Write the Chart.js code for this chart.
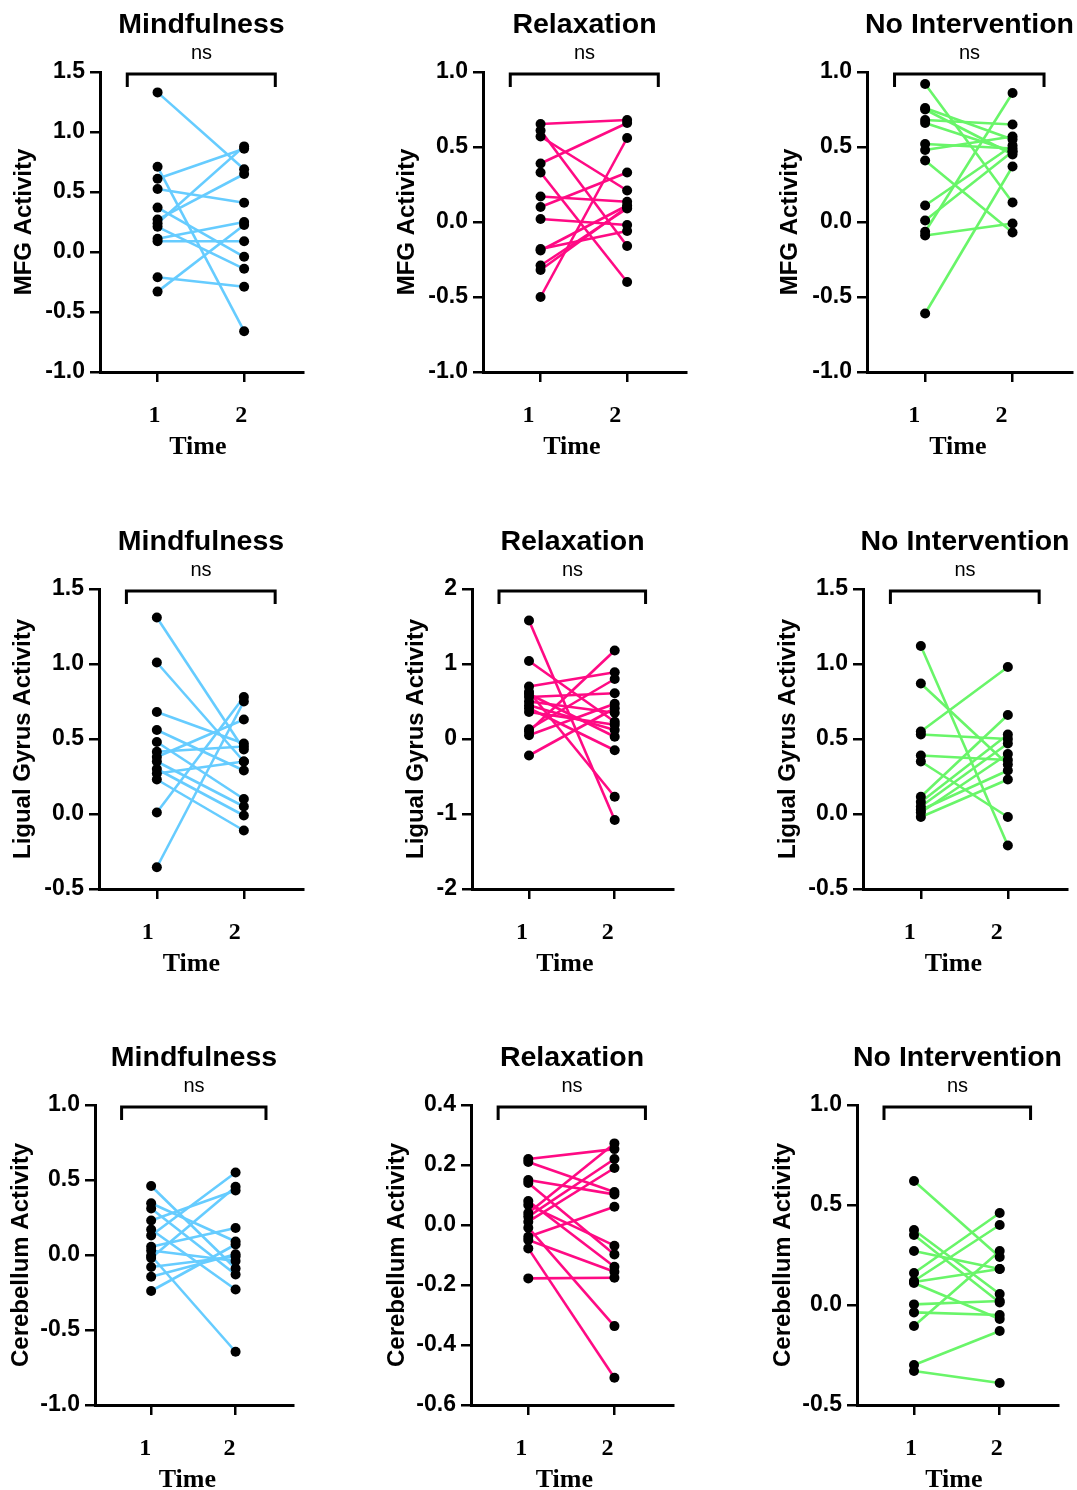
<!DOCTYPE html>
<html>
<head>
<meta charset="utf-8">
<script src="https://cdn.jsdelivr.net/npm/chart.js@4.4.0/dist/chart.umd.min.js"></script>
<style>
  html, body { margin: 0; padding: 0; background: #fff; width: 1077px; height: 1490px; overflow: hidden; }
  canvas { position: absolute; }
</style>
</head>
<body>
<script>
// ---- data ----
const groupTitles = ['Mindfulness', 'Relaxation', 'No Intervention'];
const regionLabels = ['MFG Activity', 'Ligual Gyrus Activity', 'Cerebellum Activity'];
const timeTicks = [1, 2];
const timeTitle = 'Time';
const sigLabel = 'ns';

// MFG
const mfgMindT1 = [1.33, 0.71, 0.61, 0.525, 0.37, 0.27, 0.24, 0.21, 0.11, 0.09, -0.21, -0.33];
const mfgMindT2 = [0.69, -0.66, 0.86, 0.41, -0.04, 0.65, 0.88, -0.14, 0.25, 0.09, -0.29, 0.225];
const mfgRelaxT1 = [0.653, 0.61, 0.57, 0.39, 0.33, 0.17, 0.10, 0.02, -0.18, -0.19, -0.29, -0.32, -0.50];
const mfgRelaxT2 = [0.68, -0.16, 0.21, 0.66, -0.40, 0.135, 0.33, -0.02, -0.06, 0.11, 0.09, 0.10, 0.56];
const mfgNoT1 = [0.92, 0.76, 0.75, 0.68, 0.66, 0.52, 0.48, 0.41, 0.11, 0.01, -0.065, -0.09, -0.61];
const mfgNoT2 = [0.13, 0.55, 0.45, 0.65, 0.47, 0.49, 0.57, -0.07, 0.51, 0.47, 0.86, -0.01, 0.37];

// Lingual gyrus
const lgMindT1 = [1.31, 1.01, 0.68, 0.56, 0.48, 0.415, 0.38, 0.35, 0.30, 0.27, 0.23, 0.01, -0.355];
const lgMindT2 = [0.43, 0.35, 0.47, 0.29, 0.10, 0.45, 0.63, 0.05, -0.01, 0.35, -0.11, 0.78, 0.75];
const lgRelaxT1 = [1.58, 1.04, 0.70, 0.63, 0.56, 0.50, 0.45, 0.41, 0.36, 0.60, 0.13, 0.10, 0.05, -0.22];
const lgRelaxT2 = [-1.08, 0.23, 0.89, -0.77, 0.61, 0.35, 0.12, -0.15, 0.19, 0.03, 0.80, 1.18, 0.47, 0.41];
const lgNoT1 = [1.12, 0.87, 0.55, 0.53, 0.39, 0.35, 0.115, 0.08, 0.05, 0.027, -0.02, 0.01];
const lgNoT2 = [-0.21, 0.33, 0.98, 0.50, 0.36, -0.02, 0.66, 0.53, 0.47, 0.29, 0.23, 0.40];

// Cerebellum
const cbMindT1 = [0.46, 0.345, 0.31, 0.23, 0.17, 0.13, 0.055, 0.03, -0.005, -0.02, -0.08, -0.145, -0.24];
const cbMindT2 = [-0.09, 0.09, -0.13, 0.43, -0.23, 0.55, 0.18, -0.04, -0.645, 0.455, -0.01, 0.005, 0.07];
const cbRelaxT1 = [0.22, 0.21, 0.15, 0.14, 0.08, 0.067, 0.04, 0.028, 0.011, -0.009, -0.039, -0.05, -0.078, -0.178];
const cbRelaxT2 = [0.253, 0.11, 0.102, -0.098, -0.139, -0.069, 0.272, 0.22, 0.19, -0.337, 0.061, -0.156, -0.509, -0.176];
const cbNoT1 = [0.62, 0.375, 0.35, 0.27, 0.16, 0.12, 0.115, 0.11, 0.003, -0.037, -0.105, -0.30, -0.33];
const cbNoT2 = [0.24, 0.055, 0.013, 0.18, 0.46, 0.40, 0.18, -0.07, 0.02, -0.05, 0.27, -0.13, -0.39];

// y tick labels per panel
const ticksMfg15 = [-1.0, -0.5, 0.0, 0.5, 1.0, 1.5];
const ticksMfg10 = [-1.0, -0.5, 0.0, 0.5, 1.0];
const ticksLg15 = [-0.5, 0.0, 0.5, 1.0, 1.5];
const ticksLg2 = [-2, -1, 0, 1, 2];
const ticksCb10 = [-1.0, -0.5, 0.0, 0.5, 1.0];
const ticksCb04 = [-0.6, -0.4, -0.2, 0.0, 0.2, 0.4];
const ticksCbNo = [-0.5, 0.0, 0.5, 1.0];

// significance bracket span, in Time units
const bracketSpan = [0.65, 2.36];

// ---- styling ----
const groupColors = ['#66CCFF', '#FF0A84', '#69F569'];
const SANS = '"Liberation Sans", Arial, Helvetica, sans-serif';
const SERIF = '"Liberation Serif", "Times New Roman", serif';

// panel layout: axisX = page x of y axis, top = page y of plot top,
// xShift = how far the Time labels sit left of the ticks
const panels = [
  { t1: mfgMindT1, t2: mfgMindT2, g: 0, r: 0, ticks: ticksMfg15, dec: 1, axisX: 100, w: 203, top: 72, labPad: 10, xShift: -3 },
  { t1: mfgRelaxT1, t2: mfgRelaxT2, g: 1, r: 0, ticks: ticksMfg10, dec: 1, axisX: 483, w: 203, top: 72, labPad: 10, xShift: -12 },
  { t1: mfgNoT1, t2: mfgNoT2, g: 2, r: 0, ticks: ticksMfg10, dec: 1, axisX: 867, w: 205, top: 72, labPad: 9, xShift: -11 },
  { t1: lgMindT1, t2: lgMindT2, g: 0, r: 1, ticks: ticksLg15, dec: 1, axisX: 99, w: 204, top: 589, labPad: 10, xShift: -9 },
  { t1: lgRelaxT1, t2: lgRelaxT2, g: 1, r: 1, ticks: ticksLg2, dec: 0, axisX: 472, w: 201, top: 589, labPad: 30, xShift: -7 },
  { t1: lgNoT1, t2: lgNoT2, g: 2, r: 1, ticks: ticksLg15, dec: 1, axisX: 863, w: 204, top: 589, labPad: 11, xShift: -11 },
  { t1: cbMindT1, t2: cbMindT2, g: 0, r: 2, ticks: ticksCb10, dec: 1, axisX: 95, w: 198, top: 1105, labPad: 12, xShift: -6 },
  { t1: cbRelaxT1, t2: cbRelaxT2, g: 1, r: 2, ticks: ticksCb04, dec: 1, axisX: 471, w: 202, top: 1105, labPad: 12, xShift: -7 },
  { t1: cbNoT1, t2: cbNoT2, g: 2, r: 2, ticks: ticksCbNo, dec: 1, axisX: 857, w: 201, top: 1105, labPad: 12, xShift: -3 }
];

const Y_AXIS_W = 100, TOP_PAD = 72, X_AXIS_H = 98, PLOT_H = 300, RIGHT_PAD = 6;

// title, "ns", bracket above each plot and the Time caption below it
const headerPlugin = {
  id: 'header',
  afterDraw(chart, args, opts) {
    const { ctx, chartArea } = chart;
    const xs = chart.scales.x;
    const top = chartArea.top;
    const cx = (chartArea.left + chartArea.right) / 2;
    ctx.save();
    ctx.fillStyle = '#000';
    ctx.textAlign = 'center';
    ctx.textBaseline = 'middle';
    ctx.font = 'bold 28.5px ' + SANS;
    ctx.fillText(opts.title, cx, top - 47);
    ctx.font = '20px ' + SANS;
    ctx.fillText(sigLabel, cx, top - 19);
    ctx.font = 'bold 26px ' + SERIF;
    const tx = (xs.getPixelForValue(timeTicks[0]) + xs.getPixelForValue(timeTicks[1])) / 2;
    ctx.fillText(timeTitle, tx + opts.shift, chartArea.bottom + 75);

    const a = xs.getPixelForValue(bracketSpan[0]);
    const b = xs.getPixelForValue(bracketSpan[1]);
    ctx.strokeStyle = '#000';
    ctx.lineWidth = 3;
    ctx.beginPath();
    ctx.moveTo(a, top + 15);
    ctx.lineTo(a, top + 2);
    ctx.lineTo(b, top + 2);
    ctx.lineTo(b, top + 15);
    ctx.stroke();
    ctx.restore();
  }
};

function makePanel(p) {
  const canvas = document.createElement('canvas');
  canvas.width = Y_AXIS_W + p.w + RIGHT_PAD;
  canvas.height = TOP_PAD + PLOT_H + X_AXIS_H;
  canvas.style.left = (p.axisX - Y_AXIS_W) + 'px';
  canvas.style.top = (p.top - TOP_PAD) + 'px';
  document.body.appendChild(canvas);

  const color = groupColors[p.g];
  const pairLines = p.t1.map((v, i) => ({
    data: [{ x: 1, y: v }, { x: 2, y: p.t2[i] }],
    showLine: true,
    borderColor: color,
    borderWidth: 2.6,
    pointRadius: 0,
    order: 1
  }));
  const dots = {
    data: p.t1.map(v => ({ x: 1, y: v })).concat(p.t2.map(v => ({ x: 2, y: v }))),
    pointRadius: 5,
    backgroundColor: '#000',
    borderColor: '#000',
    borderWidth: 0,
    order: 0
  };

  const axisGrid = { drawOnChartArea: false, drawTicks: true, tickLength: 10, color: '#000', lineWidth: 2.5 };
  const axisBorder = { display: true, color: '#000', width: 3 };

  new Chart(canvas, {
    type: 'scatter',
    data: { datasets: [dots].concat(pairLines) },
    options: {
      responsive: false,
      animation: false,
      events: [],
      layout: { padding: { top: TOP_PAD, right: RIGHT_PAD, left: 0, bottom: 0 } },
      plugins: {
        legend: { display: false },
        tooltip: { enabled: false },
        header: { title: groupTitles[p.g], shift: p.xShift }
      },
      scales: {
        x: {
          type: 'linear',
          min: 0.335,
          max: 2.68,
          afterBuildTicks: s => { s.ticks = timeTicks.map(v => ({ value: v })); },
          afterFit: s => { s.height = X_AXIS_H; },
          grid: axisGrid,
          border: axisBorder,
          ticks: {
            color: '#000',
            padding: 19,
            maxRotation: 0,
            labelOffset: p.xShift,
            font: { family: SERIF, weight: 'bold', size: 24, lineHeight: 1.2 }
          }
        },
        y: {
          type: 'linear',
          min: p.ticks[0],
          max: p.ticks[p.ticks.length - 1],
          afterBuildTicks: s => { s.ticks = p.ticks.map(v => ({ value: v })); },
          afterFit: s => { s.width = Y_AXIS_W; },
          grid: axisGrid,
          border: axisBorder,
          ticks: {
            color: '#000',
            padding: 5,
            font: { family: SANS, weight: 'bold', size: 23 },
            callback: v => Number(v).toFixed(p.dec)
          },
          title: {
            display: true,
            text: regionLabels[p.r],
            color: '#000',
            font: { family: SANS, weight: 'bold', size: 24, lineHeight: 1.2 },
            padding: { top: p.labPad, bottom: 0 }
          }
        }
      }
    },
    plugins: [headerPlugin]
  });
}

panels.forEach(makePanel);
</script>
</body>
</html>
